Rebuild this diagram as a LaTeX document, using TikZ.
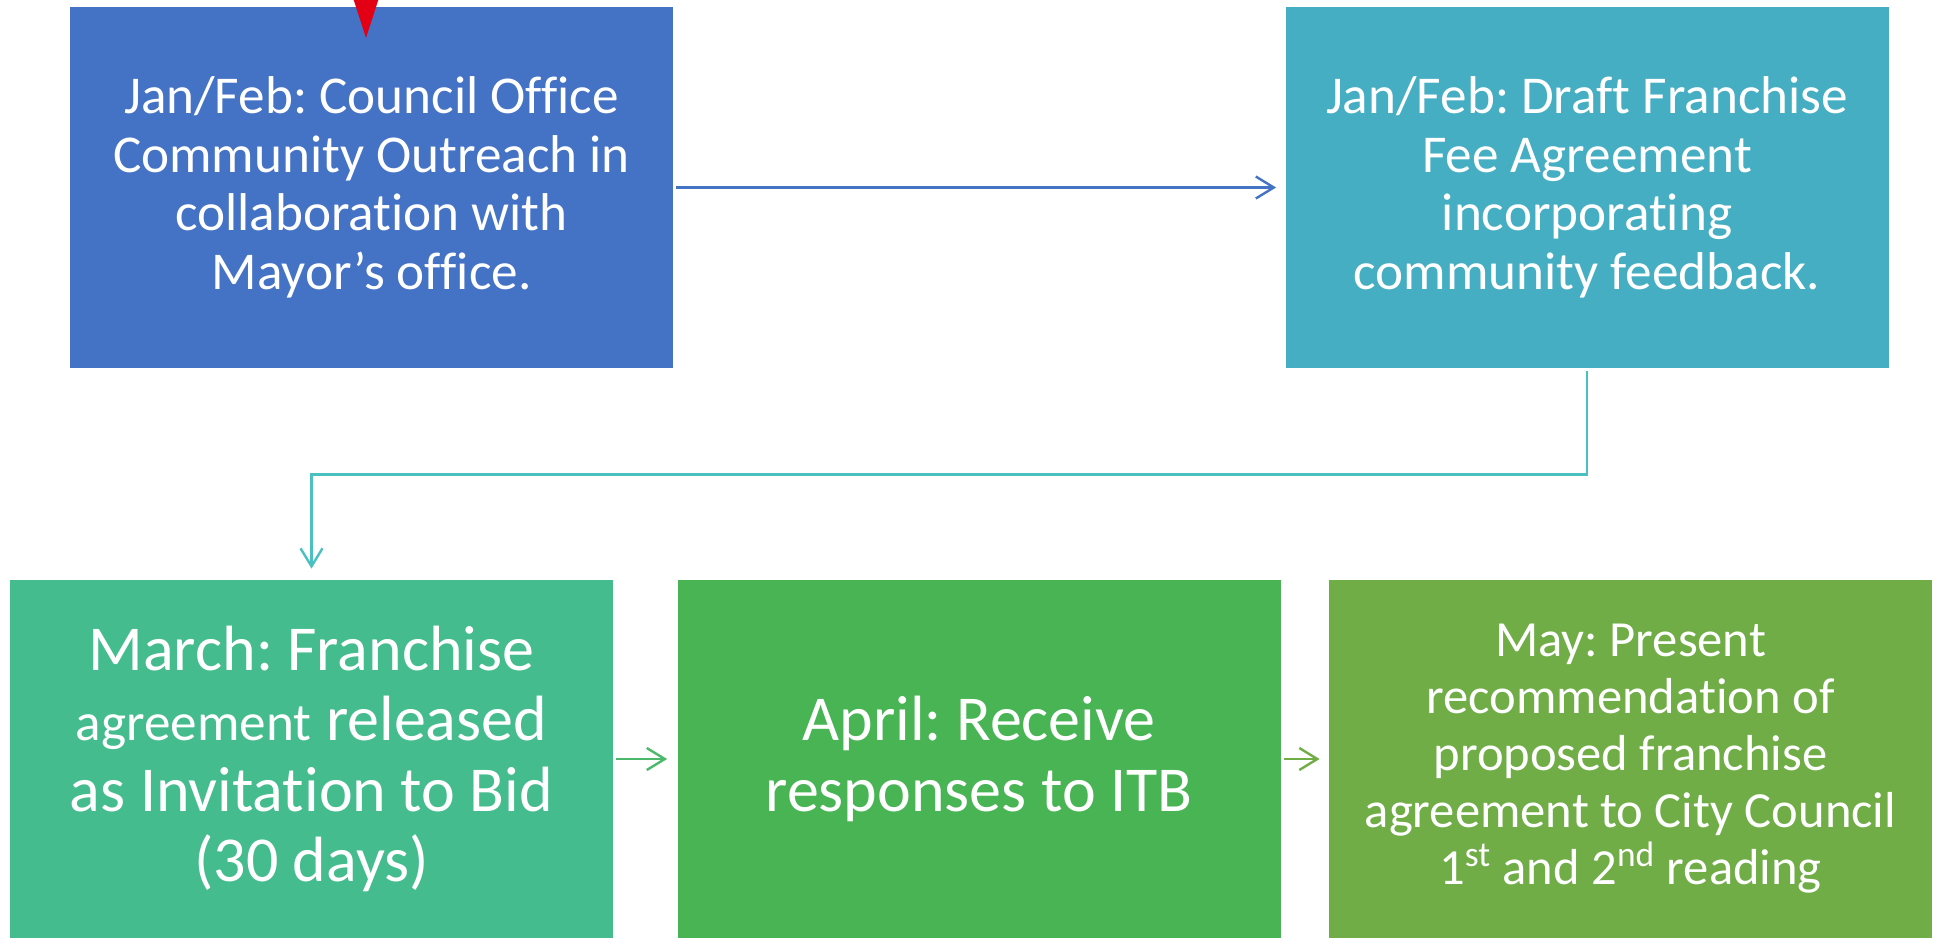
\documentclass[tikz,border=0pt]{standalone}
\usepackage{fontspec}
\setmainfont{Carlito}[Ligatures=NoCommon]
\usetikzlibrary{arrows.meta}
\frenchspacing
\definecolor{boxblue}{RGB}{68,114,196}
\definecolor{boxteal}{RGB}{70,174,194}
\definecolor{boxsea}{RGB}{69,188,142}
\definecolor{boxgreen}{RGB}{72,180,84}
\definecolor{boxolive}{RGB}{112,173,71}
\definecolor{linkteal}{RGB}{75,192,192}
\definecolor{linksea}{RGB}{75,185,105}
\definecolor{markred}{RGB}{228,0,20}
\begin{document}
\begin{tikzpicture}[x=0.5pt,y=-0.5pt,
    box/.style={rectangle, inner sep=0pt, text=white, align=center,
      minimum width=301.5pt},
    topbox/.style={box, minimum height=180.5pt,
      font=\fontsize{26.6}{29.3}\selectfont},
    lowbox/.style={box, minimum height=179pt,
      font=\fontsize{32}{35.2}\selectfont},
    link/.style={line width=1.2pt, -{Straight Barb[length=9pt,width=11pt]},
      shorten <=1.5pt}]
  \useasboundingbox (0,0) rectangle (1938,938);
  \node[topbox, fill=boxblue] (Outreach) at (371.5,187.5)
    {Jan/Feb: Council Office\\Community Outreach in\\collaboration with\\Mayor’s office.};
  \node[topbox, fill=boxteal] (Draft) at (1587,187.5)
    {Jan/Feb: Draft Franchise\\Fee Agreement\\incorporating\\community feedback.};
  \node[lowbox, fill=boxsea] (Release) at (311.5,759)
    {March: Franchise\\{\fontsize{26.6}{35.2}\selectfont agreement} released\\as Invitation to Bid\\(30 days)};
  \node[lowbox, fill=boxgreen] (Receive) at (979,759)
    {April: Receive\\responses to ITB};
  \node[lowbox, fill=boxolive, font=\fontsize{25.3}{28.5}\selectfont] (Present) at (1630.5,759)
    {May: Present\\recommendation of\\proposed franchise\\agreement to City Council\\1\textsuperscript{st} and 2\textsuperscript{nd} reading};
  % red marker coming in from above
  \coordinate (MarkTop) at (366,-30);
  \coordinate (MarkTip) at (366,38);
  \draw[markred, line width=1pt, -{Triangle[length=19pt,width=12pt]}] (MarkTop) -- (MarkTip);
  \draw[link, boxblue, shorten >=4.5pt] (Outreach.east) -- (Draft.west);
  \draw[link, linkteal, shorten >=5.5pt] (Draft.south) -- ++(0,106) -| (Release.north);
  \draw[link, linksea, shorten >=5pt] (Release.east) -- (Receive.west);
  \draw[link, boxolive, shorten >=4.5pt] (Receive.east) -- (Present.west);
\end{tikzpicture}
\end{document}
